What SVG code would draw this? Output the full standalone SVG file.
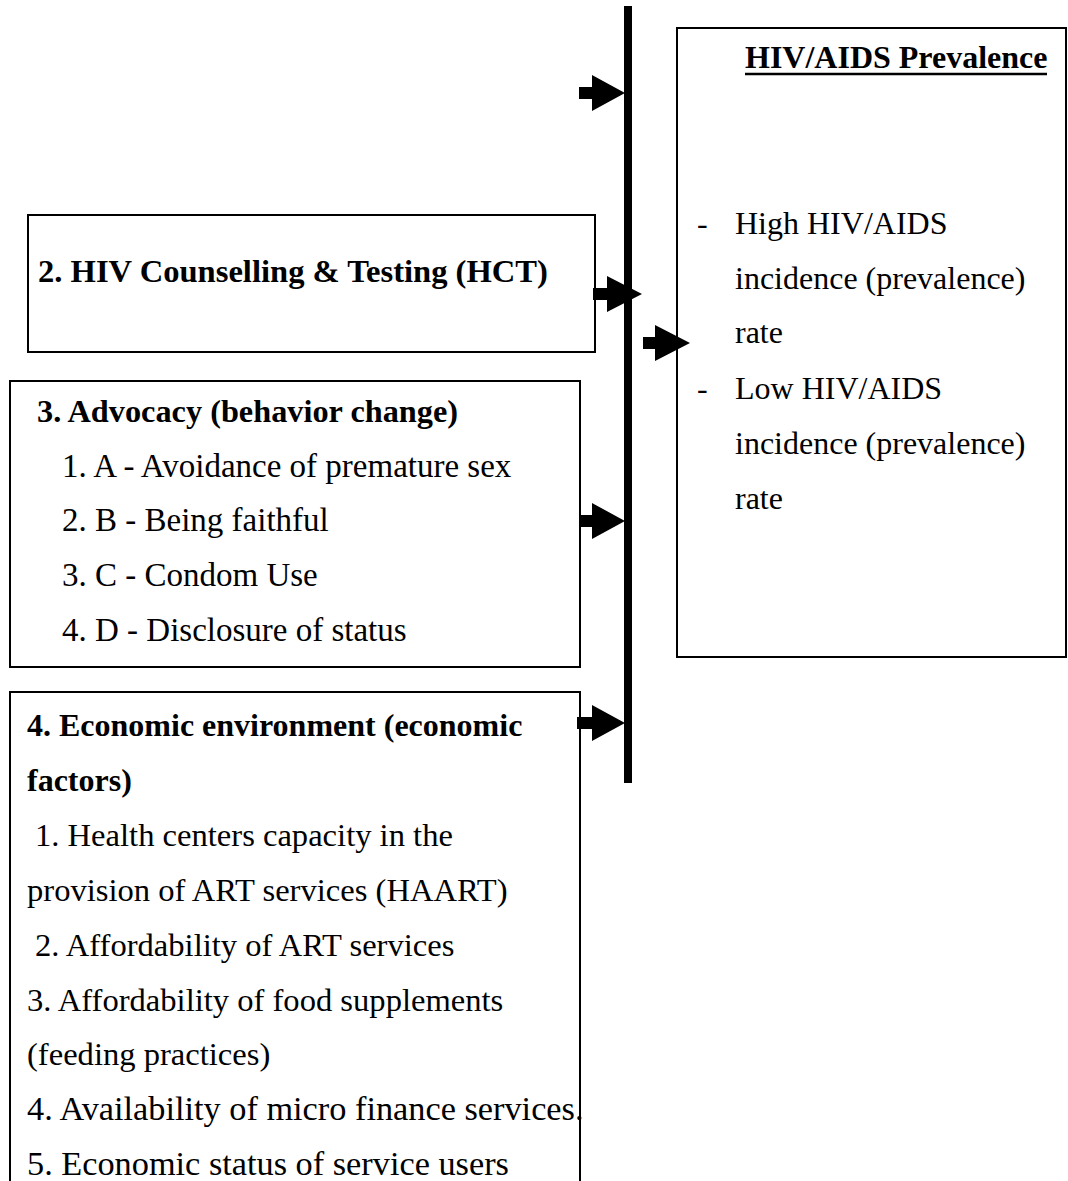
<svg xmlns="http://www.w3.org/2000/svg" width="1068" height="1181" viewBox="0 0 1068 1181">
<style>
.box{fill:#fff;stroke:#000;stroke-width:2}
text{font-family:"Liberation Serif","Times New Roman",serif;font-size:32px;fill:#000}
.b{font-weight:bold;font-size:32.3px}
.m{font-size:33px}
.e{font-size:32.6px}
.l{font-size:34.3px}
.arr{fill:#000}
</style>
<rect width="1068" height="1181" fill="#fff"/>
<g id="prevalence">
<rect class="box" x="677" y="28" width="389" height="629"/>
<text class="b" x="745" y="68" style="font-size:32px">HIV/AIDS Prevalence</text>
<line x1="745" y1="74" x2="1047" y2="74" stroke="#000" stroke-width="2.5"/>
<text x="697" y="234">-</text>
<text x="735" y="234">High HIV/AIDS</text>
<text x="735" y="289">incidence (prevalence)</text>
<text x="735" y="343">rate</text>
<text x="697" y="399">-</text>
<text x="735" y="399">Low HIV/AIDS</text>
<text x="735" y="454">incidence (prevalence)</text>
<text x="735" y="509">rate</text>
</g>
<g id="hct">
<rect class="box" x="28" y="215" width="567" height="137"/>
<text class="b" x="38" y="282" style="font-size:32.6px">2. HIV Counselling &amp; Testing (HCT)</text>
</g>
<g id="advocacy">
<rect class="box" x="10" y="381" width="570" height="286"/>
<text class="b" x="37" y="422">3. Advocacy (behavior change)</text>
<text class="m" x="62" y="477">1. A - Avoidance of premature sex</text>
<text class="m" x="62" y="531">2. B - Being faithful</text>
<text class="m" x="62" y="586">3. C - Condom Use</text>
<text class="m" x="62" y="641">4. D - Disclosure of status</text>
</g>
<g id="economic">
<rect class="box" x="10" y="692" width="570" height="500"/>
<text class="b" x="27" y="736" style="font-size:32px">4. Economic environment (economic</text>
<text class="b" x="27" y="791" style="font-size:32px">factors)</text>
<text class="e" x="35" y="846">1.  Health centers capacity in the</text>
<text class="e" x="27" y="901">provision of ART services (HAART)</text>
<text class="e" x="35" y="956">2. Affordability of ART services</text>
<text class="e" x="27" y="1011">3. Affordability of food supplements</text>
<text class="e" x="27" y="1065">(feeding practices)</text>
<text class="l" x="27" y="1120">4. Availability of micro finance services.</text>
<text class="l" x="27" y="1175">5. Economic status of service users</text>
</g>
<g id="connectors">
<rect x="624" y="6" width="8" height="777" fill="#000"/>
<path class="arr" d="M579 87H592V75L625 93L592 111V99H579Z"/>
<path class="arr" d="M593 288H607V276L642 294L607 312V300H593Z"/>
<path class="arr" d="M643 337H655V325L690 343L655 361V349H643Z"/>
<path class="arr" d="M580 515H592V503L625 521L592 539V527H580Z"/>
<path class="arr" d="M577 717H592V705L625 723L592 741V729H577Z"/>
</g>
</svg>
